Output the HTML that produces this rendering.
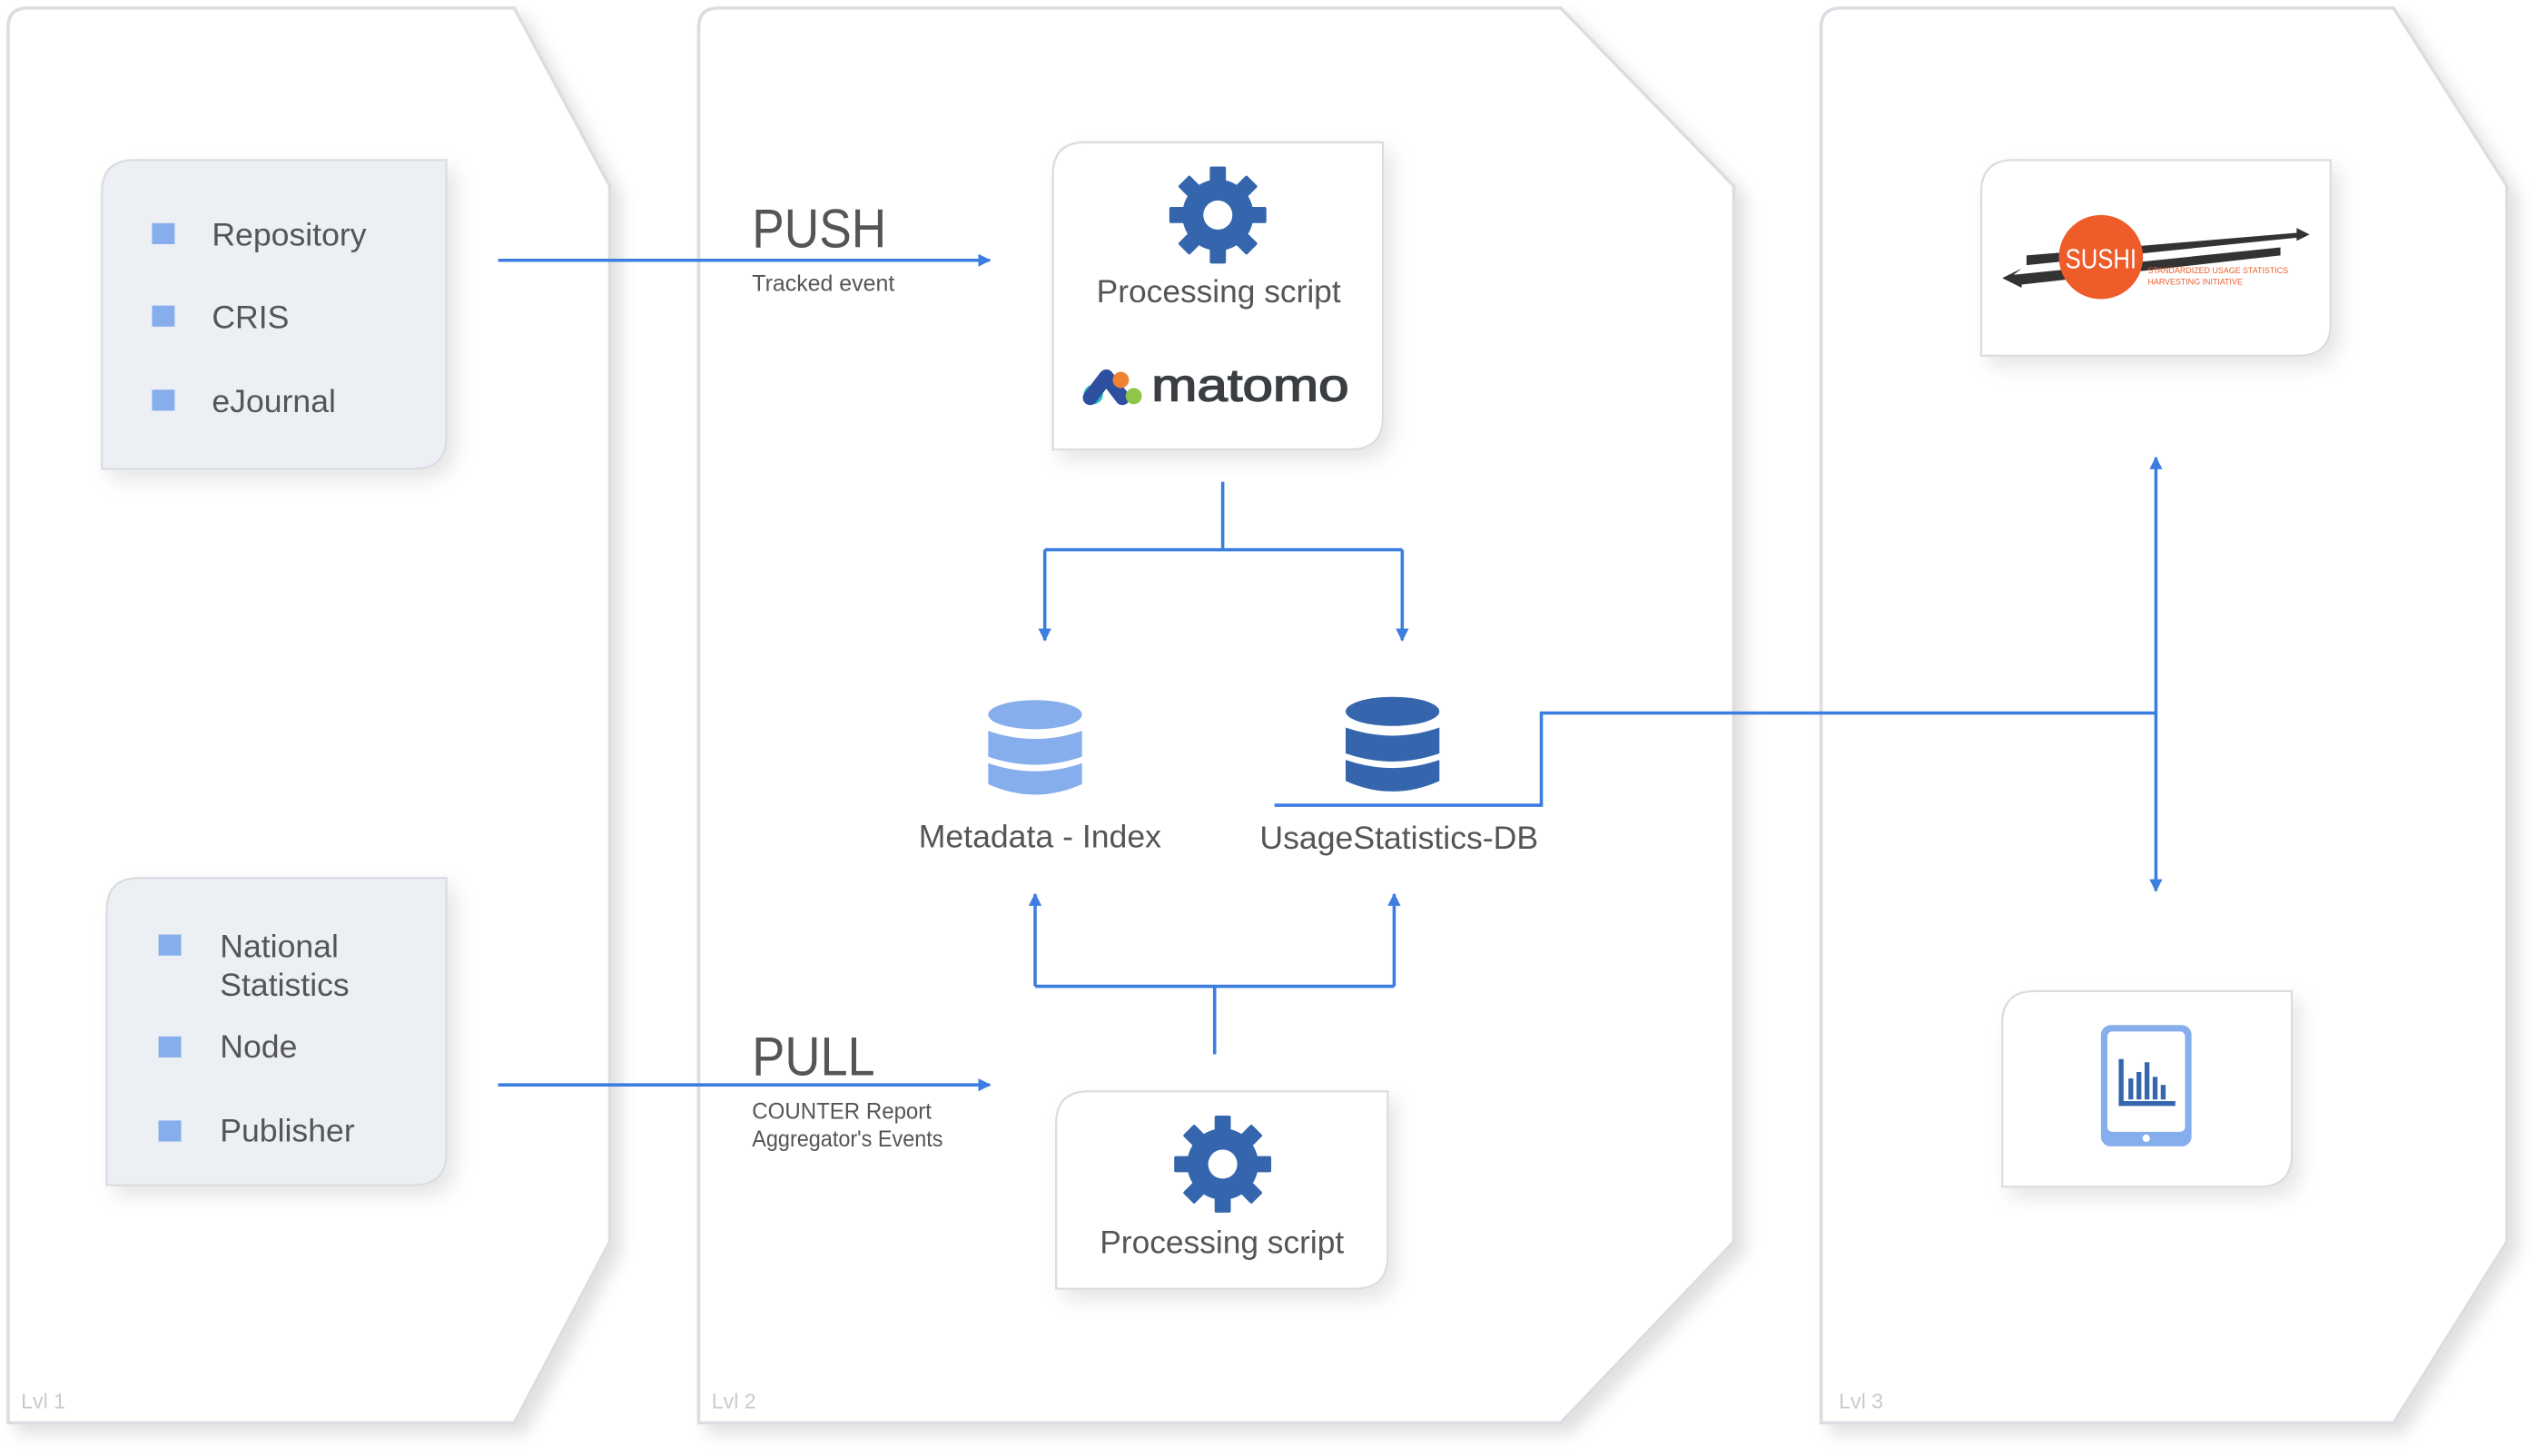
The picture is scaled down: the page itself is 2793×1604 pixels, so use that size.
<!DOCTYPE html>
<html><head><meta charset="utf-8"><style>
html,body{margin:0;padding:0;background:#fff;}
svg{display:block;}
text{font-family:"Liberation Sans",sans-serif;}
</style></head><body>
<svg width="2793" height="1604" viewBox="0 0 1568 900.5" xmlns="http://www.w3.org/2000/svg">
<defs>
<filter id="sh" x="-10%" y="-10%" width="130%" height="130%"><feDropShadow dx="6" dy="6" stdDeviation="5" flood-color="#000" flood-opacity="0.12"/></filter>
<filter id="sh2" x="-20%" y="-20%" width="150%" height="150%"><feDropShadow dx="5" dy="6" stdDeviation="6" flood-color="#000" flood-opacity="0.10"/></filter>
<marker id="ar" viewBox="0 0 10 10" refX="9" refY="5" markerWidth="4" markerHeight="4" orient="auto-start-reverse"><path d="M0,0 L10,5 L0,10 z" fill="#3b7de0"/></marker>
<g id="gear">
<g fill="#3566ad">
<circle r="22"/>
<rect x="-5" y="-30" width="10" height="60" rx="1"/>
<rect x="-5" y="-30" width="10" height="60" rx="1" transform="rotate(45)"/>
<rect x="-5" y="-30" width="10" height="60" rx="1" transform="rotate(90)"/>
<rect x="-5" y="-30" width="10" height="60" rx="1" transform="rotate(135)"/>
</g>
<circle r="9" fill="#fff"/>
</g>
<g id="db">
<ellipse cx="0" cy="12" rx="29" ry="9" />
<path d="M-29,22 Q0,32 29,22 L29,38 Q0,48 -29,38 Z"/>
<path d="M-29,42 Q0,52 29,42 L29,55 Q0,68 -29,55 Z"/>
</g>
</defs>

<g fill="#fff" stroke="#dcdde2" stroke-width="2" filter="url(#sh)">
<path d="M17,5 L318,5 L377,115 L377,768 L318,880 L5,880 L5,17 Q5,5 17,5 Z"/>
<path d="M444,5 L965,5 L1072,115 L1072,768 L965,880 L432,880 L432,17 Q432,5 444,5 Z"/>
<path d="M1138,5 L1480,5 L1550,115 L1550,768 L1480,880 L1126,880 L1126,17 Q1126,5 1138,5 Z"/>
</g>
<g fill="#c9cacf" font-size="13">
<text x="13" y="871">Lvl 1</text>
<text x="440" y="871">Lvl 2</text>
<text x="1137" y="871">Lvl 3</text>
</g>

<g filter="url(#sh2)" stroke="#dadbe0" stroke-width="1.2">
<path d="M83,99 L276,99 L276,270 Q276,290 256,290 L63,290 L63,119 Q63,99 83,99 Z" fill="#eceff4"/>
<path d="M86,543 L276,543 L276,713 Q276,733 256,733 L66,733 L66,563 Q66,543 86,543 Z" fill="#eceff4"/>
<path d="M671,88 L855,88 L855,258 Q855,278 835,278 L651,278 L651,108 Q651,88 671,88 Z" fill="#fff"/>
<path d="M673,675 L858,675 L858,777 Q858,797 838,797 L653,797 L653,695 Q653,675 673,675 Z" fill="#fff"/>
<path d="M1245,99 L1441,99 L1441,200 Q1441,220 1421,220 L1225,220 L1225,119 Q1225,99 1245,99 Z" fill="#fff"/>
<path d="M1258,613 L1417,613 L1417,714 Q1417,734 1397,734 L1238,734 L1238,633 Q1238,613 1258,613 Z" fill="#fff"/>
</g>
<g fill="#86aeed">
<rect x="94" y="138" width="14" height="13"/>
<rect x="94" y="189" width="14" height="13"/>
<rect x="94" y="241" width="14" height="13"/>
<rect x="98" y="578" width="14" height="13"/>
<rect x="98" y="641" width="14" height="13"/>
<rect x="98" y="693" width="14" height="13"/>
</g>
<g fill="#555" font-size="20">
<text x="131" y="152">Repository</text>
<text x="131" y="203">CRIS</text>
<text x="131" y="255">eJournal</text>
<text x="136" y="592">National</text>
<text x="136" y="616">Statistics</text>
<text x="136" y="654">Node</text>
<text x="136" y="706">Publisher</text>
</g>

<g stroke="#3b7de0" stroke-width="2" fill="none">
<path d="M308,161 L612,161" marker-end="url(#ar)"/>
<path d="M308,671 L612,671" marker-end="url(#ar)"/>
<path d="M756,298 L756,340 M646,340 L867,340"/>
<path d="M646,340 L646,396" marker-end="url(#ar)"/>
<path d="M867,340 L867,396" marker-end="url(#ar)"/>
<path d="M751,652 L751,610 M640,610 L862,610"/>
<path d="M640,610 L640,553" marker-end="url(#ar)"/>
<path d="M862,610 L862,553" marker-end="url(#ar)"/>
<path d="M788,498 L953,498 L953,441 L1333,441"/>
<path d="M1333,441 L1333,283" marker-end="url(#ar)"/>
<path d="M1333,441 L1333,551" marker-end="url(#ar)"/>
</g>
<g fill="#555">
<text x="465" y="153" font-size="34" textLength="83" lengthAdjust="spacingAndGlyphs">PUSH</text>
<text x="465" y="180" font-size="14">Tracked event</text>
<text x="465" y="665" font-size="34" textLength="76" lengthAdjust="spacingAndGlyphs">PULL</text>
<text x="465" y="692" font-size="14" textLength="111" lengthAdjust="spacingAndGlyphs">COUNTER Report</text>
<text x="465" y="709" font-size="14" textLength="118" lengthAdjust="spacingAndGlyphs">Aggregator's Events</text>
</g>

<use href="#gear" x="753" y="133"/>
<text x="678" y="187" font-size="20" fill="#555" textLength="151" lengthAdjust="spacingAndGlyphs">Processing script</text>
<g>
<circle cx="676" cy="244" r="6" fill="#2cbfc2"/>
<path d="M674,246 L684,233 L694,246" stroke="#2d4fa0" stroke-width="9" fill="none" stroke-linejoin="round" stroke-linecap="round"/>
<circle cx="693" cy="235" r="5" fill="#ef8332"/>
<circle cx="701" cy="245" r="5" fill="#8ec54a"/>
<text x="712" y="248" font-size="28" fill="#3a3e42" textLength="122" lengthAdjust="spacingAndGlyphs" stroke="#3a3e42" stroke-width="0.8">matomo</text>
</g>
<use href="#gear" x="756" y="720"/>
<text x="680" y="775" font-size="20" fill="#555" textLength="151" lengthAdjust="spacingAndGlyphs">Processing script</text>

<use href="#db" x="640" y="430" fill="#86aeed"/>
<use href="#db" x="861" y="428" fill="#3566ad"/>
<text x="643" y="524" font-size="20" fill="#555" text-anchor="middle">Metadata - Index</text>
<text x="865" y="525" font-size="20" fill="#555" text-anchor="middle">UsageStatistics-DB</text>

<g>
<path d="M1253,158 L1420,144 L1420,141 L1428,145 L1420,149 L1420,147 L1253,164 Z" fill="#333"/>
<path d="M1245,170 L1410,153 L1410,158 L1250,176 L1250,178 L1238,172 L1250,166 Z" fill="#333"/>
<circle cx="1299" cy="159" r="26" fill="#ee5c2a"/>
<text x="1299" y="166" font-size="17" fill="#fff" text-anchor="middle" textLength="44" lengthAdjust="spacingAndGlyphs">SUSHI</text>
<text x="1328" y="169" font-size="5" fill="#ee5c2a">STANDARDIZED USAGE STATISTICS</text>
<text x="1328" y="176" font-size="5" fill="#ee5c2a">HARVESTING INITIATIVE</text>
</g>

<rect x="1299" y="634" width="56" height="75" rx="6" fill="#86aeed"/>
<rect x="1303" y="638" width="48" height="62" rx="3" fill="#fff"/>
<circle cx="1327" cy="704" r="2.3" fill="#fff"/>
<g fill="#3566ad">
<rect x="1310" y="655" width="3" height="29"/>
<rect x="1310" y="681" width="35" height="3"/>
<rect x="1316" y="667" width="3" height="13"/>
<rect x="1321" y="663" width="3" height="17"/>
<rect x="1326" y="657" width="3" height="23"/>
<rect x="1331" y="666" width="3" height="14"/>
<rect x="1336" y="671" width="3" height="9"/>
</g>
</svg>
</body></html>
